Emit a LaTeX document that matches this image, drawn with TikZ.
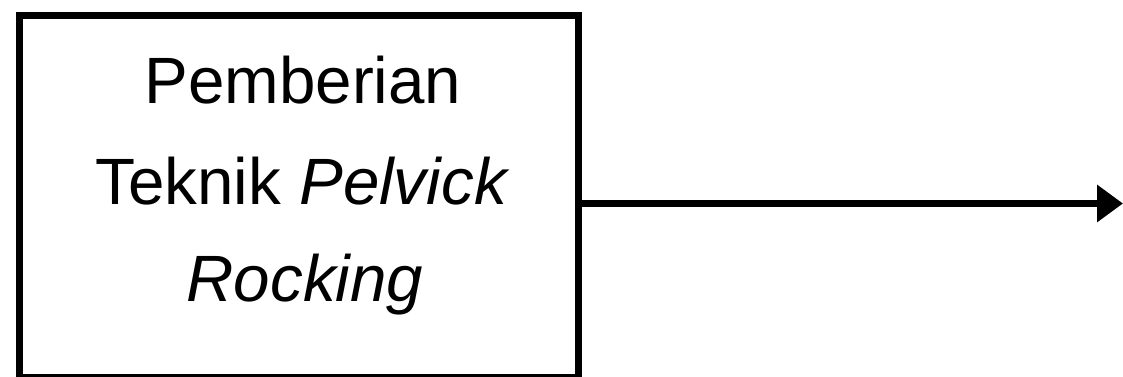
\documentclass[tikz,border=0pt]{standalone}
\usepackage{fontspec}
\setmainfont{Liberation Sans}
\usetikzlibrary{arrows.meta}
\tikzset{
  boxstyle/.style={draw=black, line width=7pt, rectangle, inner sep=0pt, minimum width=559pt, minimum height=362pt},
  txt/.style={anchor=base, inner sep=0pt, font=\fontsize{65.5pt}{70pt}\selectfont},
  conn/.style={line width=7pt, -{Triangle[length=26pt, width=36pt]}}
}
\begin{document}
\begin{tikzpicture}[x=1pt,y=1pt]
\useasboundingbox (0,0) rectangle (1123,377);
\clip (0,0) rectangle (1123,377);
\fill[white] (0,0) rectangle (1123,377);
\node[boxstyle] (box) at (299,180.5) {};
\node[txt] (l1) at (303,273) {Pemberian};
\node[txt] (l2) at (302.5,172) {Teknik \textit{Pelvick}};
\node[txt] (l3) at (305,75) {\textit{Rocking}};
\coordinate (tip) at (1123,173.5);
\draw[conn] (box.east |- tip) -- (tip);
\end{tikzpicture}
\end{document}
